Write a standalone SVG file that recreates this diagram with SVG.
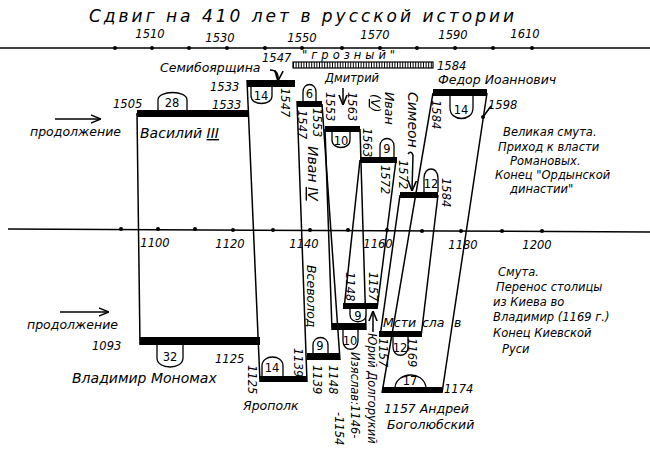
<svg xmlns="http://www.w3.org/2000/svg" width="650" height="456" viewBox="0 0 650 456">
<defs>
<style>
text{font-family:"DejaVu Sans","Liberation Sans",sans-serif;font-style:italic;fill:#000;font-size:11.5px}
.lbl{font-size:12.5px}
.big{font-size:14px}
.ttl{font-size:17px;letter-spacing:3px}
.bar{fill:#000}
.ln{stroke:#000;stroke-width:1.5;fill:none}
.loop{stroke:#000;stroke-width:1.3;fill:#fff}
.num{text-anchor:middle;font-size:11.5px;font-style:normal}
.dot{fill:#000}
</style>
<marker id="ah" viewBox="0 0 10 10" refX="9" refY="5" markerWidth="7" markerHeight="7" orient="auto"><path d="M0,1 L10,5 L0,9" fill="none" stroke="#000" stroke-width="1.5"/></marker>
</defs>
<rect width="650" height="456" fill="#fff"/>
<text class="ttl" x="303" y="22" text-anchor="middle">Сдвиг на 410 лет в русской истории</text>

<g id="axis-top">
<line class="ln" x1="0" y1="48" x2="650" y2="48"/>
<g class="dot"><circle cx="115" cy="48" r="2"/><circle cx="152" cy="48" r="2"/><circle cx="189" cy="48" r="2"/><circle cx="227" cy="48" r="2"/><circle cx="265" cy="48" r="2"/><circle cx="302" cy="48" r="2"/><circle cx="342" cy="48" r="2"/><circle cx="380" cy="48" r="2"/><circle cx="417" cy="48" r="2"/><circle cx="455" cy="48" r="2"/><circle cx="493" cy="48" r="2"/><circle cx="532" cy="48" r="2"/></g>
<g text-anchor="middle"><text x="150" y="38">1510</text><text x="220" y="42">1530</text><text x="302" y="42">1550</text><text x="375" y="39">1570</text><text x="453" y="39">1590</text><text x="525" y="38">1610</text></g>
</g>
<g id="axis-bottom">
<line class="ln" x1="8" y1="229" x2="650" y2="232"/>
<g class="dot"><circle cx="121" cy="229" r="2"/><circle cx="158" cy="229" r="2"/><circle cx="195" cy="229" r="2"/><circle cx="233" cy="230" r="2"/><circle cx="273" cy="230" r="2"/><circle cx="310" cy="230" r="2"/><circle cx="348" cy="230" r="2"/><circle cx="387" cy="230" r="2"/><circle cx="422" cy="231" r="2"/><circle cx="461" cy="231" r="2"/><circle cx="502" cy="231" r="2"/><circle cx="542" cy="231" r="2"/></g>
<g text-anchor="middle"><text x="155" y="247">1100</text><text x="230" y="248">1120</text><text x="304" y="248">1140</text><text x="378" y="248">1160</text><text x="463" y="249">1180</text><text x="537" y="249">1200</text></g>
</g>

<g id="connectors">
<line class="ln" x1="137" y1="113" x2="140" y2="345"/>
<line class="ln" x1="247" y1="80" x2="260" y2="382"/>
<line class="ln" x1="297" y1="101" x2="307" y2="382"/>
<line class="ln" x1="322" y1="104" x2="340" y2="360"/>
<line class="ln" x1="325" y1="129" x2="332" y2="330"/>
<line class="ln" x1="360" y1="129" x2="366" y2="330"/>
<line class="ln" x1="360" y1="160" x2="344" y2="309"/>
<line class="ln" x1="396" y1="160" x2="377" y2="309"/>
<line class="ln" x1="400" y1="195" x2="380" y2="337"/>
<line class="ln" x1="438" y1="195" x2="421" y2="337"/>
<line class="ln" x1="433" y1="93" x2="382" y2="393"/>
<line class="ln" x1="487" y1="93" x2="442" y2="393"/>
</g>

<g id="prodolzhenie-top"><line class="ln" x1="55" y1="119" x2="100" y2="119" marker-end="url(#ah)"/><text class="lbl" x="30" y="136">продолжение</text></g>
<g id="prodolzhenie-bottom"><line class="ln" x1="60" y1="312" x2="108" y2="312" marker-end="url(#ah)"/><text class="lbl" x="27" y="329">продолжение</text></g>

<g id="grozny">
<rect x="293" y="62" width="140" height="6" fill="#fff" stroke="#000" stroke-width="1.2"/>
<line x1="293" y1="65" x2="433" y2="65" stroke="#000" stroke-width="6" stroke-dasharray="1 1.6"/>
<text x="302" y="59" font-size="11" letter-spacing="4">"грозный"</text>
<text x="262" y="62" font-size="10">1547</text>
<text x="437" y="70">1584</text>
</g>

<g id="vasily">
<rect class="bar" x="137" y="110" width="112" height="7"/>
<path class="loop" d="M158 110 V100 C158 90 187 90 187 100 V110"/><text class="num" x="172" y="107">28</text>
<text x="113" y="108">1505</text><text x="212" y="109">1533</text>
<text class="big" x="140" y="138">Василий <tspan text-decoration="underline">III</tspan></text>
</g>
<g id="semiboyarshchina">
<rect class="bar" x="247" y="80" width="48" height="7"/>
<path class="loop" d="M251 87 V96 C251 106 272 106 272 96 V87"/><text class="num" x="261" y="100">14</text>
<text x="210" y="91">1533</text>
<text class="lbl" x="160" y="72">Семибоярщина</text>
<path class="ln" d="M270 70 Q279 70 278 80" stroke-width="1.2" marker-end="url(#ah)"/>
<text transform="translate(281,88) rotate(90)">1547</text>
</g>
<g id="ivan4">
<rect class="bar" x="297" y="101" width="25" height="6"/>
<path class="loop" d="M303 101 V92 C303 82 316 82 316 92 V101"/><text class="num" x="309.5" y="98">6</text>
<text transform="translate(298,110) rotate(90)">1547</text>
<text transform="translate(313,108) rotate(90)">1553</text>
<text class="big" transform="translate(308,146) rotate(90)">Иван <tspan text-decoration="underline">IV</tspan></text>
</g>
<g id="dmitry">
<rect class="bar" x="325" y="126" width="35" height="6"/>
<path class="loop" d="M332 132 V140 C332 150 350 150 350 140 V132"/><text class="num" x="341" y="145">10</text>
<text x="325" y="82">Дмитрий</text>
<line class="ln" x1="343" y1="88" x2="343" y2="104" stroke-width="1.2" marker-end="url(#ah)"/>
<text transform="translate(326,92) rotate(90)">1553</text>
<text transform="translate(348,92) rotate(90)">1563</text>
</g>
<g id="ivan5">
<rect class="bar" x="360" y="157" width="37" height="6"/>
<path class="loop" d="M380 157 V146 C380 136 394 136 394 146 V157"/><text class="num" x="387" y="153">9</text>
<text class="lbl" transform="translate(385,92) rotate(90)">Иван</text>
<text class="lbl" transform="translate(371,94) rotate(90)">(<tspan text-decoration="underline">V</tspan>)</text>
<text transform="translate(363,128) rotate(90)">1563</text>
<text transform="translate(381,165) rotate(90)">1572</text>
</g>
<g id="simeon">
<rect class="bar" x="400" y="192" width="38" height="6"/>
<path class="loop" d="M424 192 V178 C424 166 438 166 438 178 V192"/><text class="num" x="431" y="188">12</text>
<text class="big" transform="translate(408,92) rotate(90)">Симеон</text>
<path class="ln" d="M408 154 Q411 150 413 155 L412 190" stroke-width="1.2" marker-end="url(#ah)"/>
<text transform="translate(399,160) rotate(90)">1572</text>
<text transform="translate(442,178) rotate(90)">1584</text>
</g>
<g id="fedor">
<rect class="bar" x="433" y="89" width="54" height="7"/>
<path class="loop" d="M450 96 V108 C450 122 473 122 473 108 V96"/><text class="num" x="461" y="114">14</text>
<text class="lbl" x="438" y="84">Федор Иоаннович</text>
<text x="488" y="109">1598</text>
<line class="ln" x1="491" y1="106" x2="483" y2="117" stroke-width="1.2"/><circle cx="483" cy="117" r="2"/>
<text transform="translate(432,100) rotate(90)">1584</text>
</g>

<g id="note-top" class="lbl">
<text x="503" y="136">Великая смута.</text>
<text x="498" y="151">Приход к власти</text>
<text x="510" y="165">Романовых.</text>
<text x="495" y="179">Конец "Ордынской</text>
<text x="510" y="193">династии"</text>
</g>
<g id="note-bottom" class="lbl">
<text x="498" y="276">Смута.</text>
<text x="496" y="291">Перенос столицы</text>
<text x="493" y="306">из Киева во</text>
<text x="493" y="321">Владимир (1169 г.)</text>
<text x="493" y="337">Конец Киевской</text>
<text x="502" y="353">Руси</text>
</g>

<g id="vladimir">
<rect class="bar" x="140" y="337" width="120" height="8"/>
<path class="loop" d="M157 345 V358 C157 370 183 370 183 358 V345"/><text class="num" x="170" y="361">32</text>
<text x="92" y="350">1093</text><text x="215" y="363">1125</text>
<text class="big" x="72" y="383">Владимир Мономах</text>
</g>
<g id="yaropolk">
<rect class="bar" x="260" y="376" width="47" height="6"/>
<path class="loop" d="M262 376 V366 C262 354 283 354 283 366 V376"/><text class="num" x="272" y="372">14</text>
<text transform="translate(248,365) rotate(90)">1125</text>
<text class="lbl" x="243" y="410">Ярополк</text>
</g>
<g id="vsevolod">
<rect class="bar" x="307" y="353" width="33" height="7"/>
<path class="loop" d="M313 353 V345 C313 335 328 335 328 345 V353"/><text class="num" x="320" y="350">9</text>
<text class="lbl" transform="translate(307,265) rotate(90)">Всеволод</text>
<text transform="translate(294,348) rotate(90)">1139</text>
<text transform="translate(313,365) rotate(90)">1139</text>
</g>
<g id="izyaslav">
<rect class="bar" x="332" y="323" width="34" height="7"/>
<path class="loop" d="M343 330 V341 C343 352 358 352 358 341 V330"/><text class="num" x="350" y="345">10</text>
<text transform="translate(329,365) rotate(90)">1148</text>
<text transform="translate(351,352) rotate(90)">Изяслав:1146-</text>
<text transform="translate(335,412) rotate(90)">-1154</text>
</g>
<g id="yuri">
<rect class="bar" x="343" y="303" width="34" height="6"/>
<path class="loop" d="M350 309 V315 C350 324 366 324 366 315 V309"/><text class="num" x="358" y="320">9</text>
<text transform="translate(346,272) rotate(90)">1148</text>
<text transform="translate(369,272) rotate(90)">1157</text>
<text transform="translate(368,333) rotate(90)" font-size="11">Юрий Долгорукий</text>
<line class="ln" x1="373" y1="332" x2="373" y2="312" stroke-width="1.2" marker-end="url(#ah)"/>
</g>
<g id="mstislav">
<rect class="bar" x="379" y="331" width="43" height="6"/>
<path class="loop" d="M393 337 V347 C393 358 408 358 408 347 V337"/><text class="num" x="400" y="352">12</text>
<text class="lbl" x="383" y="327">Мсти</text><text class="lbl" x="422" y="327">сла</text><text class="lbl" x="454" y="327">в</text>
<text transform="translate(379,338) rotate(90)">1157</text>
<text transform="translate(408,338) rotate(90)">1169</text>
</g>
<g id="andrei">
<rect class="bar" x="382" y="387" width="60" height="6"/>
<path class="loop" d="M395 387 C397 372 423 370 426 387"/><text class="num" x="410" y="385">17</text>
<text x="444" y="393">1174</text>
<text class="lbl" x="384" y="413">1157 Андрей</text>
<text class="lbl" x="387" y="429">Боголюбский</text>
</g>
</svg>
